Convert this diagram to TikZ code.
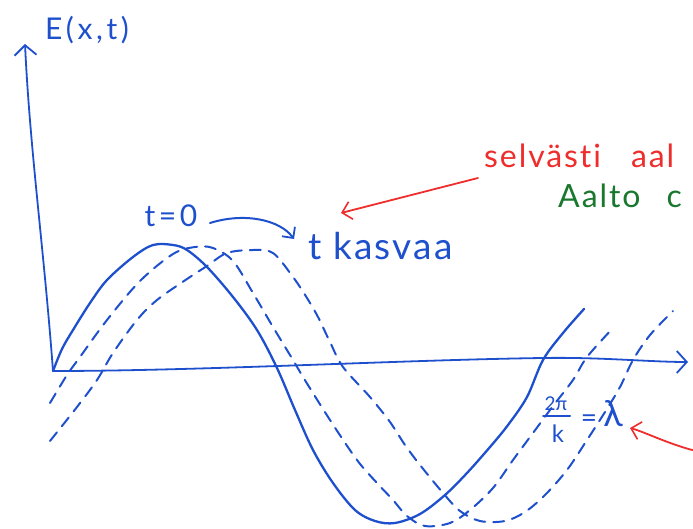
\documentclass[tikz,border=0pt]{standalone}
\usepackage{fontspec}
\setmainfont{Lato}
\usetikzlibrary{arrows.meta}
\definecolor{pen}{RGB}{30,80,205}
\definecolor{redpen}{RGB}{238,45,45}
\definecolor{greenpen}{RGB}{25,120,45}
\newfontfamily\handfont[LetterSpace=12,Ligatures=NoCommon]{Lato}
\newfontfamily\handfontb[LetterSpace=6,Ligatures=NoCommon]{Lato}
\begin{document}
\begin{tikzpicture}[x=1pt,y=-1pt,
  axis/.style={pen, line width=1.8pt, line cap=round, line join=round},
  wave/.style={pen, line width=2.3pt, line cap=round, line join=round},
  dwave/.style={pen, line width=2pt, line cap=round, dash pattern=on 11pt off 8pt},
  hand/.style={pen, inner sep=0pt},
  barb/.style={-{Straight Barb[length=10pt,width=22pt,line width=1.8pt]}},
  redbarb/.style={redpen, line width=1.8pt, line cap=round, -{Straight Barb[length=9pt,width=18pt,line width=1.6pt]}}]
\useasboundingbox (0,0) rectangle (693,529);
\clip (0,0) rectangle (693,529);
% axes
\coordinate (O) at (53,371);
\coordinate (ytop) at (25,44);
\coordinate (xend) at (688,362);
\draw[axis, barb] (O) .. controls (44,250) and (30,150) .. (ytop);
\draw[axis, barb] (O) .. controls (200,371) and (400,360) .. (543,358) .. controls (600,357) and (650,362) .. (xend);
% solid wave t=0
\draw[wave] plot[smooth, tension=0.55] coordinates {(53,371) (62,349) (73,330) (90,303) (107,280) (133,257) (153,245) (173,245) (187,250) (207,267) (233,297) (257,330) (277,368) (295,410) (313,450) (333,483) (355,510) (375,521) (395,523) (420,514) (445,495) (467,473) (490,447) (508,425) (527,397) (543,360) (563,333) (584,309)};
% dashed wave 1
\draw[dwave] plot[smooth, tension=0.55] coordinates {(50,403) (67,375) (80,357) (107,320) (140,281) (173,254) (195,247) (213,248) (233,261) (253,293) (273,327) (293,360) (303,377) (330,420) (357,460) (377,483) (393,500) (407,516) (425,526) (450,523) (470,510) (493,488) (513,460) (533,433) (553,406) (573,380) (587,357) (613,328)};
% dashed wave 2
\draw[dwave] plot[smooth, tension=0.55] coordinates {(50,441) (77,407) (97,380) (113,353) (137,320) (157,300) (187,279) (207,266) (227,253) (253,250) (273,253) (293,277) (307,298) (318,317) (330,342) (343,367) (370,397) (390,422) (405,445) (420,465) (443,493) (460,511) (480,521) (505,521) (525,512) (545,495) (567,470) (587,440) (605,412) (620,387) (633,360) (650,335) (673,311)};
% labels
\node[hand, font=\handfont\fontsize{30}{32}\selectfont] (E) at (87,30) {E(x,t)};
\node[hand, font=\handfont\fontsize{30}{32}\selectfont] (t0) at (171,216) {t=0};
\node[hand, font=\handfontb\fontsize{37}{40}\selectfont, anchor=west] (tk) at (308,246) {t kasvaa};
\node[redpen, inner sep=0pt, font=\handfontb\fontsize{32}{34}\selectfont, anchor=west] (selv) at (484,156) {selvästi\hspace{30pt}aal};
\node[greenpen, inner sep=0pt, font=\handfontb\fontsize{32}{34}\selectfont, anchor=west] (aalto) at (558,196) {Aalto\hspace{26pt}c};
\node[hand, font=\fontsize{19}{20}\selectfont] (num) at (556,404) {2π};
\node[hand, font=\fontsize{24}{26}\selectfont] (den) at (558,434) {k};
\coordinate (fl) at (543,416);
\coordinate (fr) at (570,416);
\draw[pen, line width=2pt, line cap=round] (fl) -- (fr);
\node[hand, font=\fontsize{28}{30}\selectfont] (eq) at (589,421) {=};
\node[hand, font=\fontsize{36}{38}\selectfont] (lam) at (613,414) {λ};
% blue time arrow
\coordinate (ta) at (210,223);
\coordinate (tb) at (294,239);
\draw[pen, line width=2pt, line cap=round, -{Straight Barb[length=8pt,width=16pt,line width=1.8pt]}] (ta) .. controls (245,212) and (280,220) .. (tb);
% red arrows
\coordinate (r1s) at (478,178);
\coordinate (r1e) at (341,213);
\draw[redbarb] (r1s) -- (r1e);
\coordinate (r2s) at (700,452);
\coordinate (r2e) at (630,428);
\draw[redbarb] (r2s) .. controls (670,445) and (645,432) .. (r2e);
\end{tikzpicture}
\end{document}
